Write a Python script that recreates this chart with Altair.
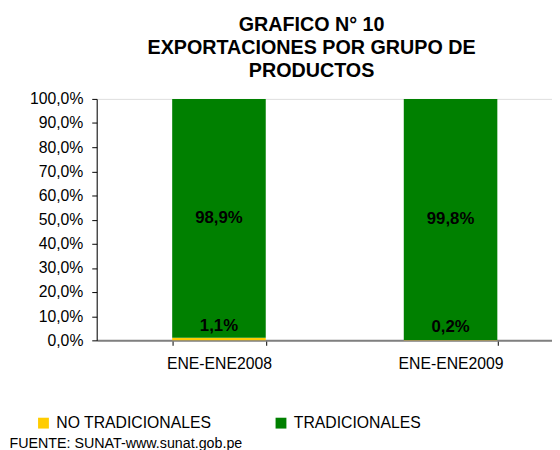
import altair as alt
import pandas as pd

periodos = ["ENE-ENE2008", "ENE-ENE2009"]
grupos = ["NO TRADICIONALES", "TRADICIONALES"]
no_tradicionales = [1.1, 0.2]
tradicionales = [98.9, 99.8]
etiquetas_no = ["1,1%", "0,2%"]
etiquetas_tr = ["98,9%", "99,8%"]
colores = ["#FFCC00", "#008000"]
ticks_y = [0, 10, 20, 30, 40, 50, 60, 70, 80, 90, 100]

rows = []
for i, p in enumerate(periodos):
    rows.append({"periodo": p, "grupo": grupos[0], "valor": no_tradicionales[i],
                 "orden": 0, "mid": no_tradicionales[i] / 2, "etiqueta": etiquetas_no[i]})
    rows.append({"periodo": p, "grupo": grupos[1], "valor": tradicionales[i],
                 "orden": 1, "mid": no_tradicionales[i] + tradicionales[i] / 2,
                 "etiqueta": etiquetas_tr[i]})
df = pd.DataFrame(rows)

W, H = 462, 245
FONT = "Liberation Sans"

xscale = alt.Scale(domain=periodos, paddingInner=0.596, paddingOuter=0.281, align=0.58)
yscale = alt.Scale(domain=[0, 100], nice=False)

xaxis = alt.Axis(title="FUENTE: SUNAT-www.sunat.gob.pe", labelAngle=0,
                 labelFontSize=16, labelFont=FONT, labelColor="black",
                 labelPadding=11, tickBand="extent", tickSize=5, tickColor="black",
                 domainColor="#808080", domainWidth=2,
                 titleX=-89, titleY=109, titleAlign="left", titleAnchor="start",
                 titleBaseline="alphabetic",
                 titleFontSize=14.5, titleFontWeight="normal", titleFont=FONT,
                 titleColor="black")
yaxis = alt.Axis(title=None, values=ticks_y, labelOverlap=False,
                 labelExpr="replace(format(datum.value, '.1f'), '.', ',') + '%'",
                 labelFontSize=16, labelFont=FONT, labelColor="black",
                 tickSize=5, labelPadding=9, tickColor="black",
                 domainColor="black", grid=False)

x = alt.X("periodo:N", scale=xscale, sort=periodos, axis=xaxis)

bars = alt.Chart(df).mark_bar().encode(
    x=x,
    y=alt.Y("valor:Q", stack="zero", scale=yscale, axis=yaxis),
    color=alt.Color("grupo:N", scale=alt.Scale(domain=grupos, range=colores),
                    legend=alt.Legend(title=None, orient="none", legendX=-62, legendY=321,
                                      direction="horizontal", columns=2, columnPadding=62,
                                      symbolType="square", symbolSize=121,
                                      symbolStrokeWidth=0, labelFontSize=16, labelFont=FONT,
                                      labelColor="black", labelLimit=300, labelOffset=5)),
    order=alt.Order("orden:Q"),
)

text_tr = alt.Chart(df).transform_filter(alt.datum.orden == 1).mark_text(
    fontWeight="bold", fontSize=17, font=FONT, color="black"
).encode(x=x, y=alt.Y("mid:Q", scale=yscale, axis=yaxis), text="etiqueta:N")

text_no = alt.Chart(df).transform_filter(alt.datum.orden == 0).mark_text(
    fontWeight="bold", fontSize=17, font=FONT, color="black", dy=-13
).encode(x=x, y=alt.Y("mid:Q", scale=yscale, axis=yaxis), text="etiqueta:N")

chart = alt.layer(bars, text_tr, text_no).properties(
    width=W, height=H,
    title=alt.TitleParams(
        text=["GRAFICO N° 10", "EXPORTACIONES POR GRUPO DE", "PRODUCTOS"],
        fontSize=20, font=FONT, fontWeight="bold", color="black",
        lineHeight=23.5, anchor="middle", dx=-13, dy=26, offset=16, baseline="bottom",
    ),
    autosize=alt.AutoSizeParams(type="none"),
    padding={"left": 90, "top": 89, "right": 0, "bottom": 108},
).configure_view(stroke=None).configure(background="white")

chart.save("out.html", embed_options={"renderer": "svg", "actions": False})
